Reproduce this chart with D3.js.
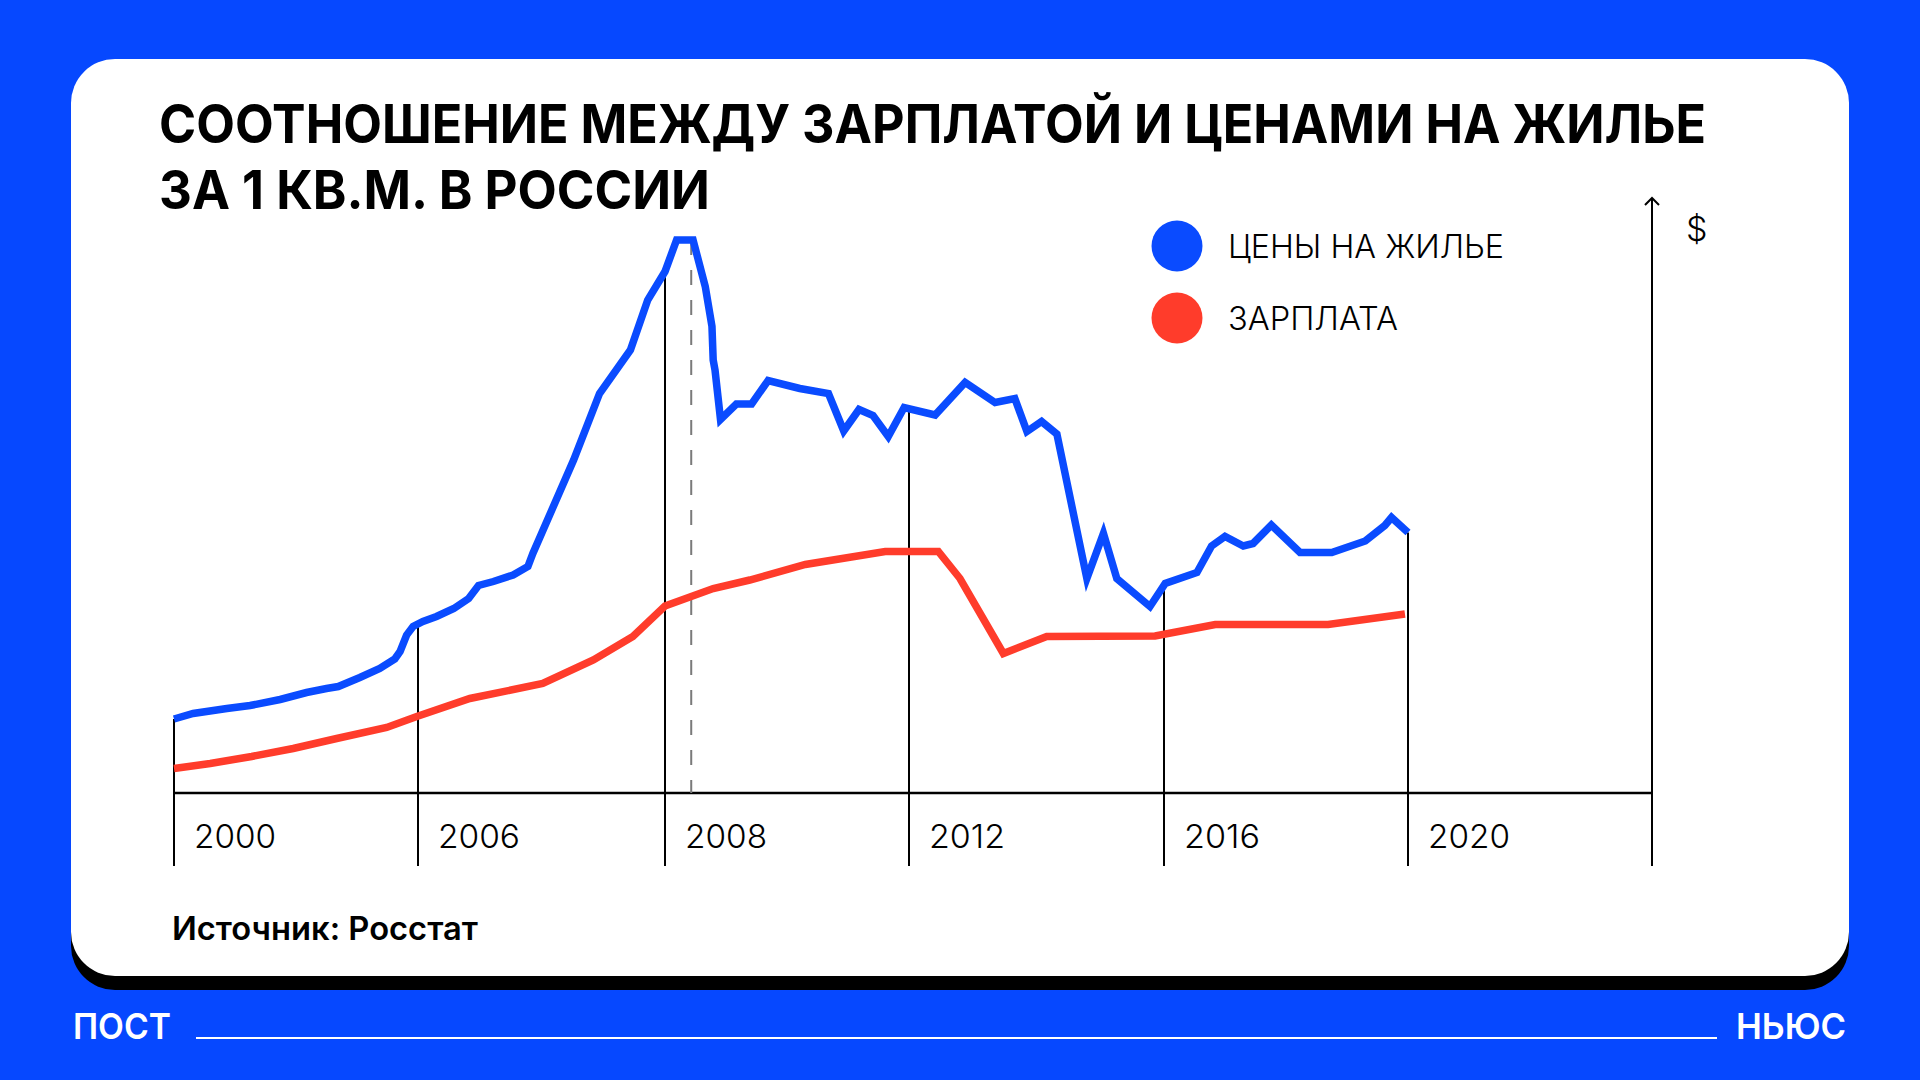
<!DOCTYPE html>
<html><head><meta charset="utf-8">
<script src="https://cdn.jsdelivr.net/npm/d3@7"></script>
<style>html,body{margin:0;padding:0;background:#0648FF;overflow:hidden} svg{display:block}</style>
</head><body><svg id="c" width="1920" height="1080"></svg>
<script>
// ---------- DATA ----------
const titleLines = ["СООТНОШЕНИЕ МЕЖДУ ЗАРПЛАТОЙ И ЦЕНАМИ НА ЖИЛЬЕ", "ЗА 1 КВ.М. В РОССИИ"];
const seriesNames = ["ЦЕНЫ НА ЖИЛЬЕ", "ЗАРПЛАТА"];
const tickYears  = [2000, 2006, 2008, 2012, 2016, 2020, 2024];
const tickLabels = ["2000", "2006", "2008", "2012", "2016", "2020", ""];
const priceYears = [2000.00, 2000.47, 2001.30, 2001.87, 2002.61, 2003.26, 2003.75, 2004.04, 2004.57, 2005.06,
  2005.43, 2005.56, 2005.72, 2005.88, 2006.04, 2006.15, 2006.29, 2006.41, 2006.49, 2006.61,
  2006.77, 2006.89, 2006.93, 2007.26, 2007.47, 2007.72, 2007.86, 2008.00, 2008.19, 2008.46,
  2008.66, 2008.77, 2008.79, 2008.82, 2008.91, 2009.17, 2009.42, 2009.69, 2010.21, 2010.68,
  2010.93, 2011.18, 2011.41, 2011.66, 2011.92, 2012.41, 2012.88, 2013.35, 2013.66, 2013.85,
  2014.08, 2014.32, 2014.79, 2015.05, 2015.26, 2015.78, 2016.02, 2016.54, 2016.78, 2017.00,
  2017.30, 2017.46, 2017.76, 2018.23, 2018.75, 2019.30, 2019.62, 2019.73, 2020.00];
const priceValues = [14.8, 15.9, 16.9, 17.5, 18.7, 20.1, 20.9, 21.3, 23.1, 24.9,
  26.8, 28.3, 31.6, 33.3, 34.3, 35.3, 36.9, 38.9, 41.5, 42.3,
  43.6, 45.3, 47.9, 66.6, 79.9, 88.6, 98.6, 104.3, 110.6, 110.6,
  101.3, 93.3, 86.6, 84.6, 74.7, 77.8, 77.8, 82.5, 80.9, 79.9,
  72.4, 76.7, 75.5, 71.3, 77.1, 75.6, 82.1, 78.1, 78.9, 72.3,
  74.3, 71.8, 42.9, 51.9, 42.9, 37.3, 41.9, 44.1, 49.4, 51.3,
  49.4, 49.9, 53.6, 48.1, 48.1, 50.4, 53.5, 55.1, 52.1];
const wageYears = [2000.00, 2000.89, 2001.91, 2002.93, 2004.00, 2005.23, 2005.97, 2006.42, 2007.01, 2007.42,
  2007.74, 2008.00, 2008.79, 2009.39, 2010.30, 2011.61, 2012.46, 2012.80, 2013.48, 2014.16,
  2015.86, 2016.84, 2018.69, 2019.95];
const wageValues = [4.9, 5.9, 7.3, 8.9, 10.9, 13.1, 15.3, 18.9, 21.9, 26.6,
  31.3, 37.4, 40.9, 42.6, 45.7, 48.3, 48.3, 42.9, 27.9, 31.3,
  31.4, 33.7, 33.7, 35.8];
const crisisYear = 2008.43;
const unitLabel = "$";
const sourceText = "Источник: Росстат";
const brandLeft = "ПОСТ", brandRight = "НЬЮС";

// ---------- STYLE / LAYOUT ----------
const C = { bg: "#0648FF", blue: "#0A4BFF", red: "#FF3C2B", ink: "#000", dash: "#7a7a7a" };
const W = 1920, H = 1080;
const svg = d3.select("#c");

svg.append("rect").attr("width", W).attr("height", H).attr("fill", C.bg);
// card shadow + card
svg.append("rect").attr("x", 71).attr("y", 73).attr("width", 1778).attr("height", 917).attr("rx", 44).attr("fill", "#000");
svg.append("rect").attr("x", 71).attr("y", 59).attr("width", 1778).attr("height", 917).attr("rx", 44).attr("fill", "#fff");

function fit(sel, target) {
  const w = sel.node().getComputedTextLength();
  if (w > 0) sel.attr("textLength", target).attr("lengthAdjust", "spacingAndGlyphs");
  return sel;
}

// title
const titleWidths = [1547, 551];
titleLines.forEach((t, i) => {
  const el = svg.append("text").attr("x", 159).attr("y", 143 + i * 66)
    .attr("font-family", "Inter, 'Open Sans', sans-serif").attr("font-weight", 700)
    .attr("font-size", 54).attr("fill", C.ink).text(t);
  fit(el, titleWidths[i]);
});

// scales
const x = d3.scaleLinear().domain(tickYears).range([174, 418, 665, 909, 1164, 1408, 1652]);
const y = d3.scaleLinear().domain([0, 110]).range([793, 243]);
const axisY = y(0), gridBottom = 866;

const priceAt = yr => {
  const i = d3.bisectLeft(priceYears, yr);
  if (i <= 0) return priceValues[0];
  if (i >= priceYears.length) return null;
  const t = (yr - priceYears[i - 1]) / (priceYears[i] - priceYears[i - 1]);
  return priceValues[i - 1] + t * (priceValues[i] - priceValues[i - 1]);
};

const g = svg.append("g");
// vertical grid lines, hanging from the price line down below the axis
tickYears.forEach((yr, i) => {
  const v = priceAt(yr);
  const top = (v == null) ? 198 : y(v);
  g.append("line").attr("x1", x(yr)).attr("x2", x(yr)).attr("y1", top).attr("y2", gridBottom)
    .attr("stroke", C.ink).attr("stroke-width", 2);
});
// y-axis arrow head
const ax = x(tickYears[tickYears.length - 1]);
g.append("path").attr("d", `M${ax - 7},${205} L${ax},${198} L${ax + 7},${205}`)
  .attr("fill", "none").attr("stroke", C.ink).attr("stroke-width", 2);
g.append("text").attr("x", ax + 34).attr("y", 241).attr("font-family", "Inter, sans-serif")
  .attr("font-weight", 300).attr("font-size", 34).attr("fill", C.ink).text(unitLabel);

// x axis
g.append("line").attr("x1", x(tickYears[0]) - 1).attr("x2", ax + 1).attr("y1", axisY).attr("y2", axisY)
  .attr("stroke", C.ink).attr("stroke-width", 2.5);

// tick labels
tickLabels.forEach((lab, i) => {
  if (!lab) return;
  const el = g.append("text").attr("x", x(tickYears[i]) + 20).attr("y", 848)
    .attr("font-family", "Inter, sans-serif").attr("font-weight", 300).attr("font-size", 32)
    .attr("fill", C.ink).text(lab);
  fit(el, lab === "2012" || lab === "2016" ? 76 : 82);
});

// crisis dashed line
g.append("line").attr("x1", x(crisisYear)).attr("x2", x(crisisYear))
  .attr("y1", y(priceAt(crisisYear))).attr("y2", axisY)
  .attr("stroke", C.dash).attr("stroke-width", 2).attr("stroke-dasharray", "15,15");

// series lines
const line = d3.line().x(d => x(d[0])).y(d => y(d[1]));
g.append("path").datum(wageYears.map((yr, i) => [yr, wageValues[i]]))
  .attr("d", line).attr("fill", "none").attr("stroke", C.red).attr("stroke-width", 7.5)
  .attr("stroke-linejoin", "miter").attr("stroke-miterlimit", 6);
g.append("path").datum(priceYears.map((yr, i) => [yr, priceValues[i]]))
  .attr("d", line).attr("fill", "none").attr("stroke", C.blue).attr("stroke-width", 7.5)
  .attr("stroke-linejoin", "miter").attr("stroke-miterlimit", 6);

// legend
const legColors = [C.blue, C.red], legW = [276, 170];
seriesNames.forEach((n, i) => {
  const cy = 246 + i * 72;
  svg.append("ellipse").attr("cx", 1177).attr("cy", cy).attr("rx", 25.5).attr("ry", 25.5).attr("fill", legColors[i]);
  const el = svg.append("text").attr("x", 1228).attr("y", cy + 12)
    .attr("font-family", "Inter, sans-serif").attr("font-weight", 300).attr("font-size", 33)
    .attr("fill", C.ink).text(n);
  fit(el, legW[i]);
});

// source
fit(svg.append("text").attr("x", 172).attr("y", 940).attr("font-family", "Inter, sans-serif")
  .attr("font-weight", 600).attr("font-size", 32).attr("fill", C.ink).text(sourceText), 306);

// footer
fit(svg.append("text").attr("x", 73).attr("y", 1039).attr("font-family", "Inter, sans-serif")
  .attr("font-weight", 600).attr("font-size", 36).attr("fill", "#fff").text(brandLeft), 98);
fit(svg.append("text").attr("x", 1736).attr("y", 1039).attr("font-family", "Inter, sans-serif")
  .attr("font-weight", 600).attr("font-size", 36).attr("fill", "#fff").text(brandRight), 110);
svg.append("line").attr("x1", 196).attr("x2", 1717).attr("y1", 1038).attr("y2", 1038)
  .attr("stroke", "#fff").attr("stroke-width", 2);
</script></body></html>
